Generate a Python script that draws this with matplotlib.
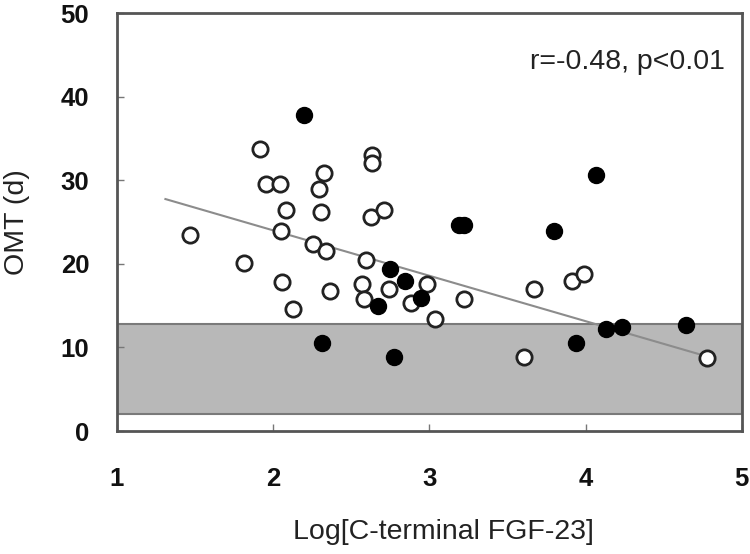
import matplotlib
matplotlib.use("Agg")
import matplotlib.pyplot as plt
import numpy as np

plt.rcParams['font.family'] = ['Liberation Sans', 'DejaVu Sans']

# Open circles
open_x = [1.468, 1.814, 1.917, 1.953, 2.045, 2.051, 2.056, 2.081, 2.130, 2.258,
          2.295, 2.308, 2.327, 2.338, 2.365, 2.568, 2.579, 2.594, 2.628, 2.633,
          2.633, 2.712, 2.744, 2.882, 2.982, 3.038, 3.220, 3.605, 3.669, 3.910,
          3.990, 4.780]
open_y = [23.4, 20.1, 33.7, 29.5, 29.6, 23.9, 17.8, 26.4, 14.6, 22.4,
          28.9, 26.2, 30.9, 21.5, 16.8, 17.6, 15.8, 20.4, 25.6, 33.0,
          32.0, 26.4, 17.0, 15.3, 17.6, 13.4, 15.8, 8.9, 17.0, 17.9,
          18.8, 8.7]

# Filled circles
filled_x = [2.199, 2.312, 2.672, 2.746, 2.771, 2.846, 2.947, 3.188, 3.224,
            3.797, 3.936, 4.068, 4.128, 4.235, 4.641]
filled_y = [37.8, 10.5, 14.9, 19.4, 8.9, 18.0, 15.9, 24.6, 24.6,
            23.9, 10.5, 30.6, 12.2, 12.4, 12.7]

# Regression line
fit_slope = -5.43
fit_intercept = 34.86
fit_range = [1.31, 4.78]

# Reference band
band_low, band_high = 2.0, 12.8

x_ticks = [1, 2, 3, 4, 5]
y_ticks = [0, 10, 20, 30, 40, 50]

fig = plt.figure(figsize=(7.5, 5.54), dpi=100)
ax = fig.add_axes([0.156, 0.222, 0.833, 0.7545])

ax.axhspan(band_low, band_high, facecolor='#b8b8b8', edgecolor='#7a7a7a', lw=1.5, zorder=1)

fx = np.array(fit_range)
ax.plot(fx, fit_slope * fx + fit_intercept, color='#8c8c8c', lw=1.5, zorder=2)

ax.plot(open_x, open_y, 'o', ms=11, mfc='white', mec='#222222', mew=2.0, zorder=3)
ax.plot(filled_x, filled_y, 'o', ms=11.5, mfc='black', mec='black', mew=1, zorder=4)

ax.set_xlim(1, 5)
ax.set_ylim(0, 50)
ax.set_xticks(x_ticks)
ax.set_yticks(y_ticks)
for lab in ax.get_xticklabels() + ax.get_yticklabels():
    lab.set_fontweight('bold')
ax.tick_params(axis='x', direction='in', length=5, width=1, color='#777777', pad=26,
               labelsize=18.5, labelcolor='#111111')
ax.tick_params(axis='y', direction='in', length=5, width=1, color='#777777', pad=20,
               labelsize=18.5, labelcolor='#111111')

for s in ax.spines.values():
    s.set_color('#555555')
    s.set_linewidth(2)

ax.set_xlabel('Log[C-terminal FGF-23]', fontsize=20.5, color='#222222', va='center')
ax.xaxis.set_label_coords(0.522, -0.242)
ax.set_ylabel('OMT (d)', fontsize=20.5, labelpad=22, color='#222222')

ax.text(0.973, 0.883, 'r=-0.48, p<0.01', transform=ax.transAxes, ha='right', va='center',
        fontsize=20.5, color='#222222')

fig.savefig('out.png', dpi=100)
